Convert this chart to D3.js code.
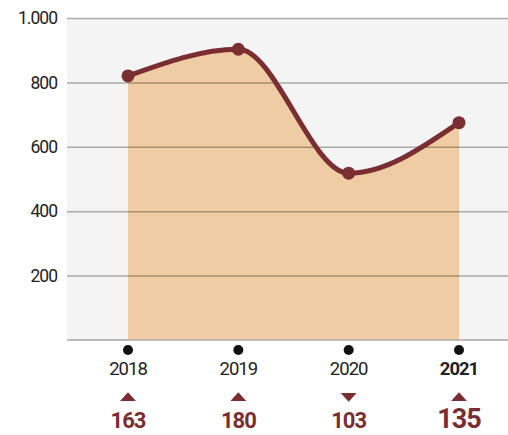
<!DOCTYPE html>
<html lang="en">
<head>
<meta charset="UTF-8">
<title>Chart</title>
<script src="https://d3js.org/d3.v7.min.js"></script>
<style>
  body { margin: 0; background: #fff; }
  text { font-family: "Roboto", "Liberation Sans", sans-serif; }
</style>
</head>
<body>
<div id="chart"></div>
<script>
  // data
  const years = ["2018", "2019", "2020", "2021"];
  const values = [820, 903, 518, 675];
  const changes = [163, 180, 103, 135];
  const directions = ["up", "up", "down", "up"];
  const yTicks = [200, 400, 600, 800, 1000];

  const W = 508, H = 435;
  const svg = d3.select("#chart").append("svg")
    .attr("width", W).attr("height", H);

  const plotLeft = 67, plotRight = 508, plotTop = 18, plotBottom = 340;

  const x = d3.scalePoint().domain(years).range([128, 459]);
  const y = d3.scaleLinear().domain([0, 1000]).range([plotBottom, plotTop]);

  // plot background
  svg.append("rect")
    .attr("x", plotLeft).attr("y", plotTop)
    .attr("width", plotRight - plotLeft).attr("height", plotBottom - plotTop)
    .attr("fill", "#f4f4f4");

  const data = years.map((yr, i) => ({ yr, v: values[i] }));

  // area
  svg.append("path")
    .datum(data)
    .attr("fill", "#efcca3")
    .attr("d", d3.area().curve(d3.curveMonotoneX)
      .x(d => x(d.yr)).y0(y(0)).y1(d => y(d.v)));

  // gridlines
  const yAxis = svg.append("g")
    .attr("transform", `translate(${plotLeft},0)`)
    .call(d3.axisLeft(y).tickValues(yTicks)
      .tickSize(-(plotRight - plotLeft))
      .tickFormat(d => d3.format(",")(d).replace(",", ".")));
  yAxis.select(".domain").remove();
  yAxis.selectAll(".tick line").attr("stroke", "#000").attr("stroke-opacity", 0.3).attr("stroke-width", 1.5);
  yAxis.selectAll(".tick text")
    .attr("x", -10).attr("fill", "#222")
    .style("font-size", "17.5px").style("letter-spacing", "-1px");

  // baseline
  svg.append("line")
    .attr("x1", plotLeft).attr("x2", plotRight)
    .attr("y1", plotBottom).attr("y2", plotBottom)
    .attr("stroke", "#a8a8a8").attr("stroke-width", 1.5);

  // line
  svg.append("path")
    .datum(data)
    .attr("fill", "none")
    .attr("stroke", "#7a2e31")
    .attr("stroke-width", 5)
    .attr("stroke-linecap", "round")
    .attr("d", d3.line().curve(d3.curveMonotoneX)
      .x(d => x(d.yr)).y(d => y(d.v)));

  svg.selectAll(".pt")
    .data(data).join("circle")
    .attr("cx", d => x(d.yr)).attr("cy", d => y(d.v))
    .attr("r", 6.5).attr("fill", "#7a2e31");

  // x labels
  const xl = svg.append("g");
  xl.selectAll("circle")
    .data(years).join("circle")
    .attr("cx", d => x(d)).attr("cy", 350).attr("r", 5).attr("fill", "#111");
  xl.selectAll("text.yr")
    .data(years).join("text")
    .attr("class", "yr")
    .attr("x", d => x(d)).attr("y", 375)
    .attr("text-anchor", "middle")
    .attr("fill", "#222")
    .style("font-size", "18.5px").style("letter-spacing", "-1px")
    .style("font-weight", (d, i) => i === years.length - 1 ? "bold" : "normal")
    .text(d => d);

  // change markers
  const sym = d3.symbol().type(d3.symbolTriangle).size(70);
  xl.selectAll("path.tri")
    .data(years).join("path")
    .attr("class", "tri")
    .attr("transform", (d, i) => `translate(${x(d)},${directions[i] === "up" ? 398 : 396}) rotate(${directions[i] === "up" ? 0 : 180}) scale(1.25,0.8)`)
    .attr("d", sym)
    .attr("fill", "#7a2e31");

  xl.selectAll("text.chg")
    .data(changes).join("text")
    .attr("class", "chg")
    .attr("x", (d, i) => x(years[i])).attr("y", 428)
    .attr("text-anchor", "middle")
    .attr("fill", "#7a2e31")
    .style("font-weight", "bold").style("letter-spacing", "-1px")
    .style("font-size", (d, i) => i === changes.length - 1 ? "27px" : "22px")
    .text(d => d);
</script>
</body>
</html>
